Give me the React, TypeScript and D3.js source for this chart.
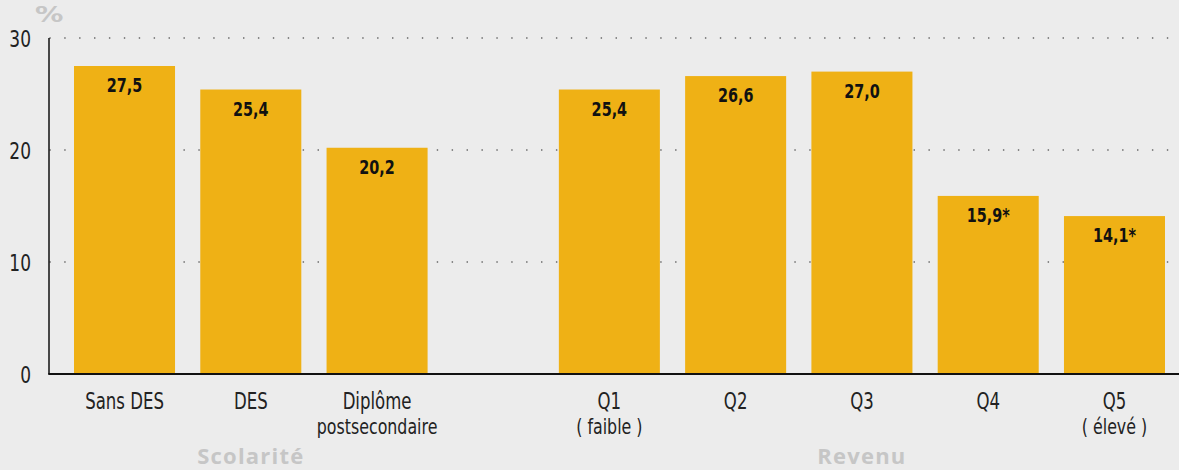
import * as d3 from 'd3';
import React, { useEffect, useRef } from 'react';

const categories = ['Sans DES', 'DES', 'Diplôme postsecondaire', 'Q1', 'Q2', 'Q3', 'Q4', 'Q5'];
const labelLines = [['Sans DES'], ['DES'], ['Diplôme', 'postsecondaire'], ['Q1', '( faible )'], ['Q2'], ['Q3'], ['Q4'], ['Q5', '( élevé )']];
const groupOf = [0, 0, 0, 1, 1, 1, 1, 1];
const groups = ['Scolarité', 'Revenu'];
const values = [27.5, 25.4, 20.2, 25.4, 26.6, 27.0, 15.9, 14.1];
const valueLabels = ['27,5', '25,4', '20,2', '25,4', '26,6', '27,0', '15,9*', '14,1*'];
const yTicks = [0, 10, 20, 30];

const FONT = "'DejaVu Sans', sans-serif";

const App = () => {
  const ref = useRef<SVGSVGElement>(null);

  useEffect(() => {
    const width = 1179, height = 470;
    const margin = { left: 49, right: 0, top: 38, bottom: 96 };
    const gap = 106;

    const svg = d3.select(ref.current);
    svg.selectAll('*').remove();

    svg.append('rect').attr('width', width).attr('height', height).attr('fill', '#ececec');

    const y = d3.scaleLinear()
      .domain([0, 30])
      .range([height - margin.bottom, margin.top]);

    const x = d3.scaleBand()
      .domain(categories)
      .range([74, 1165 - gap])
      .paddingInner(0.2)
      .paddingOuter(0);

    const xPos = (i: number) => (x(categories[i]) as number) + (groupOf[i] === 1 ? gap : 0);
    const xMid = (i: number) => xPos(i) + x.bandwidth() / 2;

    // condensed look: squeeze text horizontally
    const squeezed = (g, px: number, py: number, sx: number) =>
      g.append('text')
        .attr('transform', `translate(${px},${py}) scale(${sx},1)`)
        .attr('font-family', FONT);

    // dotted gridlines
    svg.append('g')
      .selectAll('line')
      .data(yTicks.filter(d => d > 0))
      .join('line')
      .attr('x1', margin.left + 1)
      .attr('x2', width)
      .attr('y1', d => y(d))
      .attr('y2', d => y(d))
      .attr('stroke', '#555')
      .attr('stroke-width', 1.6)
      .attr('stroke-linecap', 'round')
      .attr('stroke-dasharray', '0.1 14.8');

    // y tick labels
    const yl = svg.append('g');
    yTicks.forEach(t => {
      squeezed(yl, 31, y(t) + 9, 0.74)
        .attr('text-anchor', 'end')
        .attr('font-size', 23)
        .attr('fill', '#222')
        .text(t);
    });

    squeezed(svg, 35, 22, 1.35)
      .attr('font-weight', 'bold')
      .attr('font-size', 21)
      .attr('fill', '#c6c6c6')
      .text('%');

    // bars
    svg.append('g')
      .selectAll('rect')
      .data(values)
      .join('rect')
      .attr('x', (d, i) => xPos(i))
      .attr('y', d => y(d))
      .attr('width', x.bandwidth())
      .attr('height', d => y(0) - y(d))
      .attr('fill', '#efb115');

    // value labels
    const vl = svg.append('g');
    values.forEach((v, i) => {
      squeezed(vl, xMid(i), y(v) + 26, 0.72)
        .attr('text-anchor', 'middle')
        .attr('font-weight', 'bold')
        .attr('font-size', 20)
        .attr('fill', '#111')
        .text(valueLabels[i]);
    });

    // axes lines
    svg.append('line')
      .attr('x1', margin.left).attr('x2', margin.left)
      .attr('y1', y(30)).attr('y2', y(0))
      .attr('stroke', '#111').attr('stroke-width', 1.5);
    svg.append('line')
      .attr('x1', margin.left - 0.75).attr('x2', width)
      .attr('y1', y(0)).attr('y2', y(0))
      .attr('stroke', '#111').attr('stroke-width', 2);

    // category labels
    const cl = svg.append('g');
    labelLines.forEach((lines, i) => {
      lines.forEach((t, j) => {
        squeezed(cl, xMid(i), 409 + j * 25, 0.72)
          .attr('text-anchor', 'middle')
          .attr('font-size', j === 0 ? 23 : 22)
          .attr('fill', '#222')
          .text(t);
      });
    });

    // group labels
    svg.append('g')
      .selectAll('text')
      .data(groups)
      .join('text')
      .attr('x', (g, gi) => {
        const idx = categories.map((c, i) => i).filter(i => groupOf[i] === gi);
        const a = xPos(idx[0]);
        const b = xPos(idx[idx.length - 1]) + x.bandwidth();
        return (a + b) / 2;
      })
      .attr('y', 464)
      .attr('text-anchor', 'middle')
      .attr('font-family', "'Open Sans', sans-serif")
      .attr('font-weight', 'bold')
      .attr('font-size', 22)
      .attr('letter-spacing', 1.2)
      .attr('fill', '#c6c6c6')
      .text(g => g);
  }, []);

  return (
    <svg ref={ref} width={1179} height={470} style={{ position: 'absolute', left: 0, top: 0, display: 'block' }} />
  );
};

export default App;
